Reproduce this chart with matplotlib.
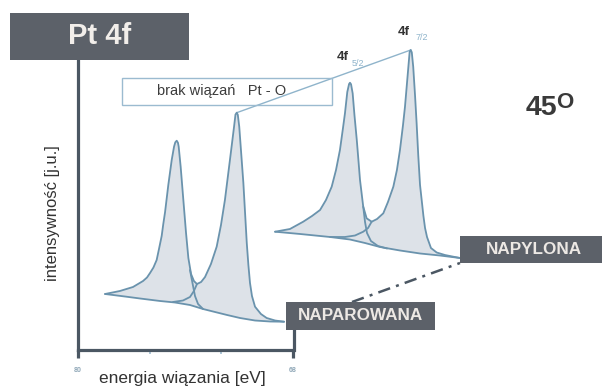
import numpy as np
import matplotlib
matplotlib.use("Agg")
import matplotlib.pyplot as plt
from matplotlib.patches import Rectangle
from matplotlib.lines import Line2D

plt.rcParams['font.family'] = ['Liberation Sans', 'DejaVu Sans']

# ---------------- data (binding energy [eV], intensity [a.u.]) ----------------
# front spectrum: "NAPAROWANA"
front_env_e = [78.49, 77.66, 76.93, 76.37, 76.15, 75.98, 75.79, 75.61, 75.48, 75.33,
               75.24, 75.14, 74.96, 74.77, 74.64, 74.57, 74.49, 74.42, 74.38, 74.27,
               74.12, 73.97, 73.84, 73.69, 73.53, 73.36, 73.13, 72.91, 72.58, 72.26,
               72.02, 71.80, 71.52, 71.29, 71.21, 71.14, 71.08, 71.00, 70.77, 70.58,
               70.49, 70.40, 70.29, 70.12, 69.79, 69.47, 69.00, 68.50]
front_env_i = [19.18, 20.21, 21.58, 23.63, 24.83, 26.37, 28.25, 30.82, 34.59, 39.04,
               43.15, 47.26, 56.51, 65.07, 69.62, 71.13, 71.68, 70.96, 69.62, 62.77,
               51.37, 40.07, 31.51, 26.03, 23.63, 22.60, 23.29, 25.00, 29.45, 35.38,
               42.81, 51.37, 65.07, 76.47, 80.65, 81.27, 80.55, 76.47, 57.19, 36.64,
               29.11, 22.95, 18.49, 14.83, 12.33, 10.96, 10.10, 9.69]
front_tail1_e = [73.75, 73.60, 73.47, 73.30, 73.02]
front_tail1_i = [27.40, 22.60, 18.49, 15.75, 14.04]
front_tail2_e = [73.36, 73.53, 73.75, 74.14, 74.70]
front_tail2_i = [22.60, 20.21, 18.15, 16.95, 16.44]
front_bg_e = [78.49, 77.38, 76.54, 75.42, 74.59, 73.75, 73.02, 72.35, 71.68, 70.96, 70.12, 69.28, 68.50]
front_bg_i = [19.18, 18.32, 17.64, 16.78, 16.27, 15.41, 14.04, 13.01, 11.99, 10.96, 10.10, 9.76, 9.69]

# back spectrum: "NAPYLONA"
back_env_e = [69.00, 68.17, 67.43, 66.94, 66.49, 66.16, 65.84, 65.60, 65.38, 65.21,
              65.10, 64.97, 64.87, 64.82, 64.76, 64.67, 64.57, 64.44, 64.34, 64.26,
              64.08, 63.89, 63.61, 63.31, 62.96, 62.70, 62.40, 62.20, 62.03, 61.86,
              61.75, 61.56, 61.49, 61.43, 61.37, 61.29, 61.19, 61.10, 61.01, 60.91,
              60.72, 60.63, 60.52, 60.30, 59.98, 59.52, 59.05, 58.68]
back_env_i = [40.51, 41.44, 43.94, 45.89, 47.95, 51.37, 55.93, 61.64, 68.49, 76.03,
              81.06, 88.36, 91.10, 91.54, 91.00, 87.91, 80.48, 71.92, 64.38, 58.22,
              49.08, 45.10, 43.94, 44.86, 46.82, 50.69, 55.93, 61.64, 68.49, 77.06,
              83.32, 97.02, 102.06, 102.74, 101.95, 97.02, 87.33, 77.64, 66.78, 56.51,
              45.89, 41.78, 38.70, 34.93, 33.39, 32.53, 31.95, 31.51]
back_tail1_e = [64.08, 63.98, 63.87, 63.65, 63.26, 62.75]
back_tail1_i = [49.08, 43.84, 40.07, 37.33, 35.62, 34.76]
back_tail2_e = [63.61, 63.81, 64.08, 64.54, 65.10, 65.93]
back_tail2_i = [43.94, 41.78, 40.51, 39.21, 38.70, 38.70]
back_bg_e = [69.00, 67.61, 65.93, 64.82, 63.98, 63.14, 62.03, 60.91, 59.80, 58.68]
back_bg_i = [40.51, 39.73, 38.70, 37.84, 36.64, 35.27, 34.08, 33.05, 32.36, 31.51]

x_major = [80, 68]
x_major_labels = ["80", "68"]
x_minor = [76, 72]

# ---------------- figure ----------------
W, H = 602, 388
fig = plt.figure(figsize=(W / 100, H / 100), dpi=100)
fig.patch.set_facecolor("white")

def fx(px):
    return px / W

def fy(py):
    return 1 - py / H

ax = fig.add_axes([fx(78), fy(350), fx(293) - fx(78), fy(58) - fy(350)])
ax.set_xlim(80, 68)
ax.set_ylim(0, 100)
ax.patch.set_alpha(0)

AXC = "#4b5763"
CURVE = "#6a93ad"
FILL = "#dde2e8"
BOX = "#5c6169"

for s in ["top", "right"]:
    ax.spines[s].set_visible(False)
for s in ["left", "bottom"]:
    ax.spines[s].set_color(AXC)
    ax.spines[s].set_linewidth(2.3)
    ax.spines[s].set_capstyle("projecting")

ax.set_xticks(x_major)
ax.set_xticklabels(x_major_labels, fontsize=5, color="#90a8b8", fontweight="bold")
ax.set_xticks(x_minor, minor=True)
ax.tick_params(axis="x", which="major", direction="out", length=5.5, width=2.3,
               color=AXC, pad=7)
ax.tick_params(axis="x", which="minor", direction="out", length=3, width=1.2,
               color="#9dbbd0")
ax.set_yticks([])


def spectrum(env_e, env_i, t1e, t1i, t2e, t2i, bge, bgi):
    px = np.concatenate([env_e, bge[::-1]])
    py = np.concatenate([env_i, bgi[::-1]])
    ax.fill(px, py, color=FILL, lw=0, clip_on=False, zorder=1)
    kw = dict(color=CURVE, lw=1.3, clip_on=False, solid_joinstyle="round",
              solid_capstyle="round", zorder=3)
    ax.plot(bge, bgi, **kw)
    ax.plot(t1e, t1i, **kw)
    ax.plot(t2e, t2i, **kw)
    ax.plot(env_e, env_i, **kw)


spectrum(np.array(front_env_e), np.array(front_env_i), front_tail1_e, front_tail1_i,
         front_tail2_e, front_tail2_i, np.array(front_bg_e), np.array(front_bg_i))
spectrum(np.array(back_env_e), np.array(back_env_i), back_tail1_e, back_tail1_i,
         back_tail2_e, back_tail2_i, np.array(back_bg_e), np.array(back_bg_i))

# line joining the 4f7/2 maxima
k1 = int(np.argmax(front_env_i))
k2 = int(np.argmax(back_env_i))
ax.plot([front_env_e[k1], back_env_e[k2]], [front_env_i[k1], back_env_i[k2]],
        color="#8fb4cb", lw=1.0, clip_on=False, zorder=2)

# axis labels
fig.text(fx(53), fy(213), "intensywność [j.u.]", rotation=90, ha="center", va="center",
         fontsize=12, color="#333333")
fig.text(fx(182), fy(378), "energia wiązania [eV]", ha="center", va="center",
         fontsize=12.5, color="#333333")

# ---------------- annotation boxes ----------------
def box(x0, y0, x1, y1, **kw):
    fig.add_artist(Rectangle((fx(x0), fy(y1)), fx(x1) - fx(x0), fy(y0) - fy(y1),
                             transform=fig.transFigure, **kw))

box(10, 13, 189, 60, facecolor=BOX, edgecolor="none", zorder=5)
fig.text(fx(100), fy(36), "Pt 4f", ha="center", va="center", fontsize=21,
         fontweight="bold", color="#f2eeea", zorder=6)

box(122, 78, 332, 105, facecolor="none", edgecolor="#9bbbd0", lw=1.0, zorder=4)
fig.text(fx(157), fy(91.5), "brak wiązań   Pt - O", ha="left", va="center",
         fontsize=10.5, color="#3c3c3c", zorder=6)

box(286, 302, 435, 330, facecolor=BOX, edgecolor="none", zorder=5)
fig.text(fx(360.5), fy(316), "NAPAROWANA", ha="center", va="center", fontsize=12.3,
         fontweight="bold", color="#ece8e4", zorder=6)

box(460, 236, 602, 263, facecolor=BOX, edgecolor="none", zorder=5)
fig.text(fx(534), fy(249.5), "NAPYLONA", ha="center", va="center", fontsize=12.3,
         fontweight="bold", color="#ece8e4", zorder=6)

# connector lines
fig.add_artist(Line2D([fx(293.5), fx(293.5)], [fy(330), fy(350)], transform=fig.transFigure,
                      color=AXC, lw=2.3, zorder=4))
fig.add_artist(Line2D([fx(352), fx(460)], [fy(302), fy(263)], transform=fig.transFigure,
                      color=AXC, lw=1.8, ls=(0, (5, 2.5, 1.2, 2.5)), zorder=4))

# peak labels
fig.text(fx(337), fy(57), "4f", ha="left", va="center", fontsize=9.5, fontweight="bold",
         color="#333333")
fig.text(fx(352), fy(64), "5/2", ha="left", va="center", fontsize=6.5, color="#8fb4cb")
fig.text(fx(398), fy(32), "4f", ha="left", va="center", fontsize=9.5, fontweight="bold",
         color="#333333")
fig.text(fx(416), fy(38), "7/2", ha="left", va="center", fontsize=6.5, color="#8fb4cb")

# angle label
fig.text(fx(526), fy(108), "45", ha="left", va="center", fontsize=20.5, fontweight="bold",
         color="#3a3a3a")
fig.text(fx(556), fy(103), "O", ha="left", va="center", fontsize=16, fontweight="bold",
         color="#3a3a3a")

fig.savefig("out.png", dpi=100)
